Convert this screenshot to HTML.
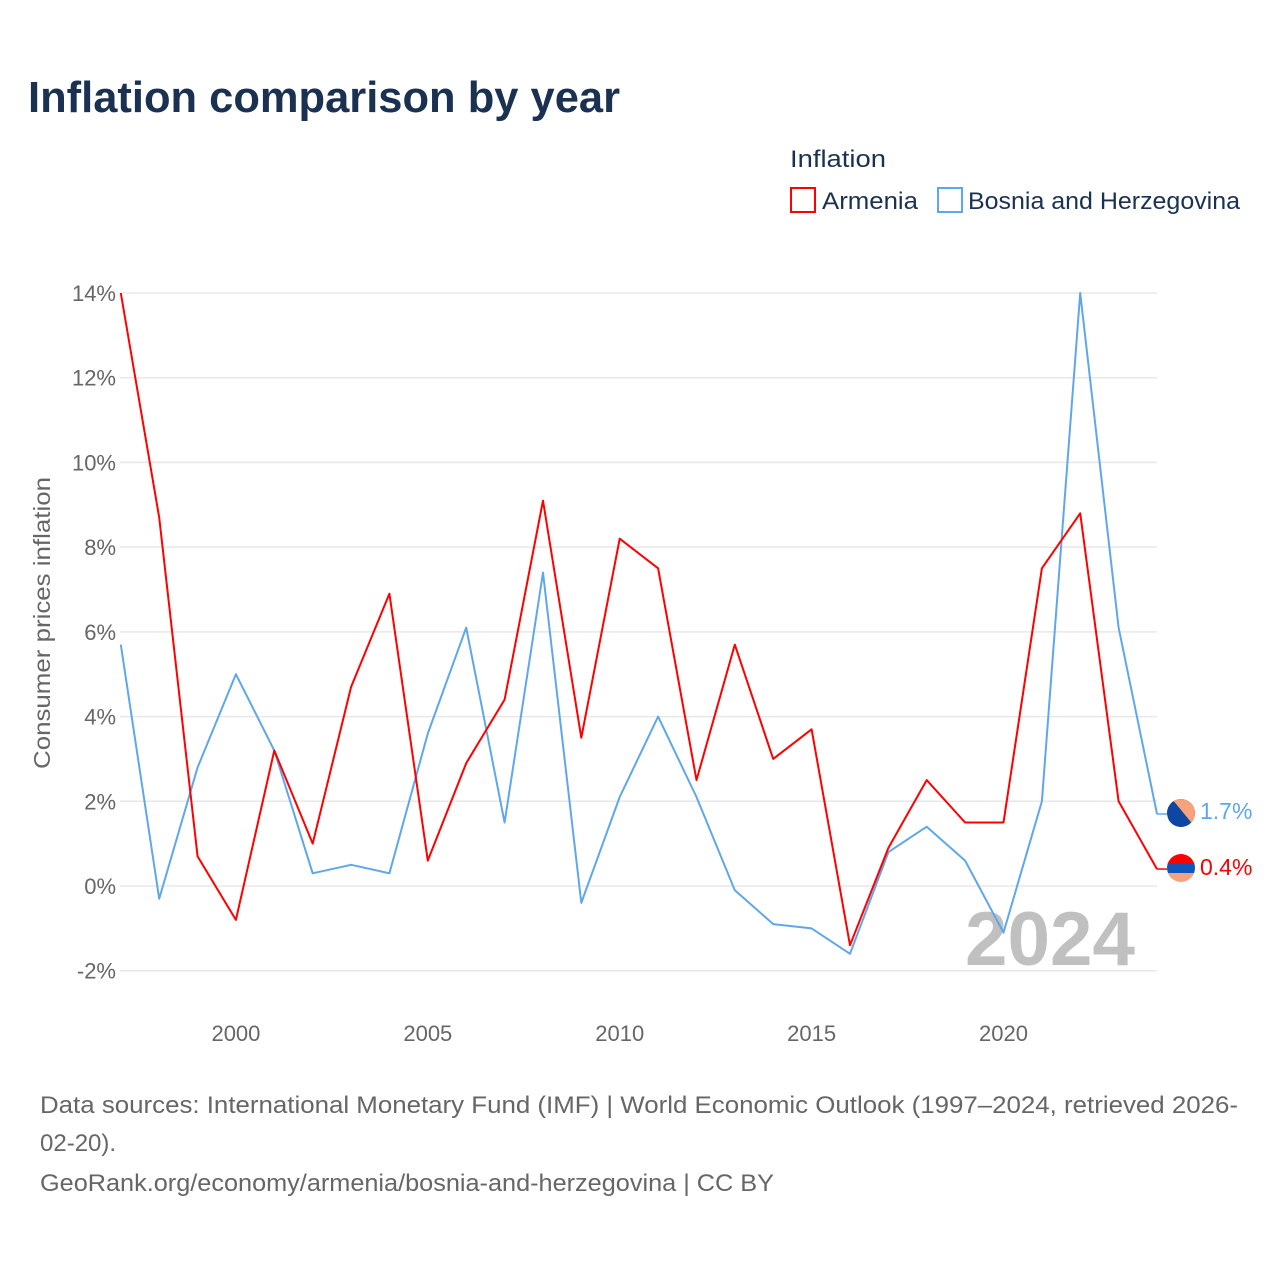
<!DOCTYPE html>
<html><head><meta charset="utf-8"><style>
html,body{margin:0;padding:0;background:#fff;}
svg{display:block;font-family:"Liberation Sans",sans-serif;}
</style></head><body>
<svg id="chart" width="1280" height="1280" viewBox="0 0 1280 1280">
<text x="28" y="112" font-size="44" font-weight="bold" fill="#1a3152" textLength="592" lengthAdjust="spacingAndGlyphs">Inflation comparison by year</text>
<text x="790" y="167" font-size="24" fill="#1a3152" textLength="96" lengthAdjust="spacingAndGlyphs">Inflation</text>
<g>
<rect x="791" y="188" width="24" height="24" fill="none" stroke="#ff0000" stroke-width="2"/>
<text x="822" y="209" font-size="24" fill="#1a3152" textLength="96" lengthAdjust="spacingAndGlyphs">Armenia</text>
</g>
<g>
<rect x="938" y="188" width="24" height="24" fill="none" stroke="#5fa7ec" stroke-width="2"/>
<text x="968" y="209" font-size="24" fill="#1a3152" textLength="272" lengthAdjust="spacingAndGlyphs">Bosnia and Herzegovina</text>
</g>
<text transform="translate(50,623) rotate(-90)" text-anchor="middle" font-size="23" fill="#666" textLength="292" lengthAdjust="spacingAndGlyphs">Consumer prices inflation</text>
<g id="grid"></g><g id="yticks"></g><g id="xticks"></g>
<text x="965" y="965" font-size="76" font-weight="bold" fill="#c0c0c0" textLength="170" lengthAdjust="spacingAndGlyphs">2024</text>
<g id="series"></g>
<g>
<clipPath id="cb"><circle cx="1181" cy="813" r="14"/></clipPath>
<g clip-path="url(#cb)"><rect x="1167" y="799" width="28" height="28" fill="#0d47a1"/><polygon points="1172,799 1195,799 1195,827" fill="#f7a27a"/><polygon points="1172,799 1192,827 1167,827" fill="#0d47a1"/></g>
</g>
<g>
<clipPath id="ca"><circle cx="1181" cy="868" r="14"/></clipPath>
<g clip-path="url(#ca)"><rect x="1167" y="854" width="28" height="10" fill="#ff0000"/><rect x="1167" y="863" width="28" height="10" fill="#1155bb"/><rect x="1167" y="873" width="28" height="10" fill="#f7a27a"/></g>
</g>
<text x="1200" y="819" font-size="23" fill="#5fa7ec">1.7%</text>
<text x="1200" y="875" font-size="23" fill="#ff0000">0.4%</text>
<text x="40" y="1113" font-size="24" fill="#666" textLength="1198" lengthAdjust="spacingAndGlyphs">Data sources: International Monetary Fund (IMF) | World Economic Outlook (1997–2024, retrieved 2026-</text>
<text x="40" y="1151" font-size="24" fill="#666">02-20).</text>
<text x="40" y="1191" font-size="24" fill="#666" textLength="734" lengthAdjust="spacingAndGlyphs">GeoRank.org/economy/armenia/bosnia-and-herzegovina | CC BY</text>
</svg>
<script>
const years = [1997,1998,1999,2000,2001,2002,2003,2004,2005,2006,2007,2008,2009,2010,2011,2012,2013,2014,2015,2016,2017,2018,2019,2020,2021,2022,2023,2024];
const armenia = [14.0,8.7,0.7,-0.8,3.2,1.0,4.7,6.9,0.6,2.9,4.4,9.1,3.5,8.2,7.5,2.5,5.7,3.0,3.7,-1.4,0.9,2.5,1.5,1.5,7.5,8.8,2.0,0.4];
const bosnia = [5.7,-0.3,2.8,5.0,3.2,0.3,0.5,0.3,3.6,6.1,1.5,7.4,-0.4,2.1,4.0,2.1,-0.1,-0.9,-1.0,-1.6,0.8,1.4,0.6,-1.1,2.0,14.0,6.1,1.7];
const yTicks = [-2,0,2,4,6,8,10,12,14];
const xTicks = [2000,2005,2010,2015,2020];
const NS="http://www.w3.org/2000/svg";
const x = v => 120.8 + (v-1997)*(1157-120.8)/27;
const y = v => 886 - v*(886-293)/14;
function mk(tag, attrs, parent, text){const e=document.createElementNS(NS,tag);for(const k in attrs)e.setAttribute(k,attrs[k]);if(text!==undefined)e.textContent=text;document.getElementById(parent).appendChild(e);return e;}
yTicks.forEach(t=>{
  const g=mk('line',{x1:120,x2:1157,y1:y(t),y2:y(t),stroke:'#e8e8e8','stroke-width':1.5},'grid');
  
  
  const l=mk('text',{x:116,y:y(t)+8,'text-anchor':'end','font-size':22,fill:'#666'},'yticks',t+'%');
  
  
});
xTicks.forEach(t=>{
  const l=mk('text',{x:x(t),y:1041,'text-anchor':'middle','font-size':22,fill:'#666'},'xticks',String(t));
  
  
});
function line(vals,color,name){
  const d=vals.map((v,i)=>(i?'L':'M')+x(years[i]).toFixed(1)+','+y(v).toFixed(1)).join('');
  const p=mk('path',{d:d,fill:'none',stroke:color,'stroke-width':2,'stroke-linejoin':'round'},'series');
  
  
  const last=vals[vals.length-1];
  const s=mk('line',{x1:x(2024),x2:1167,y1:y(last),y2:y(last),stroke:color,'stroke-width':1.5},'series');
  
  
}
line(bosnia,'#5fa7ec','bosnia-line');
line(armenia,'#ff0000','armenia-line');
</script>
</body></html>
